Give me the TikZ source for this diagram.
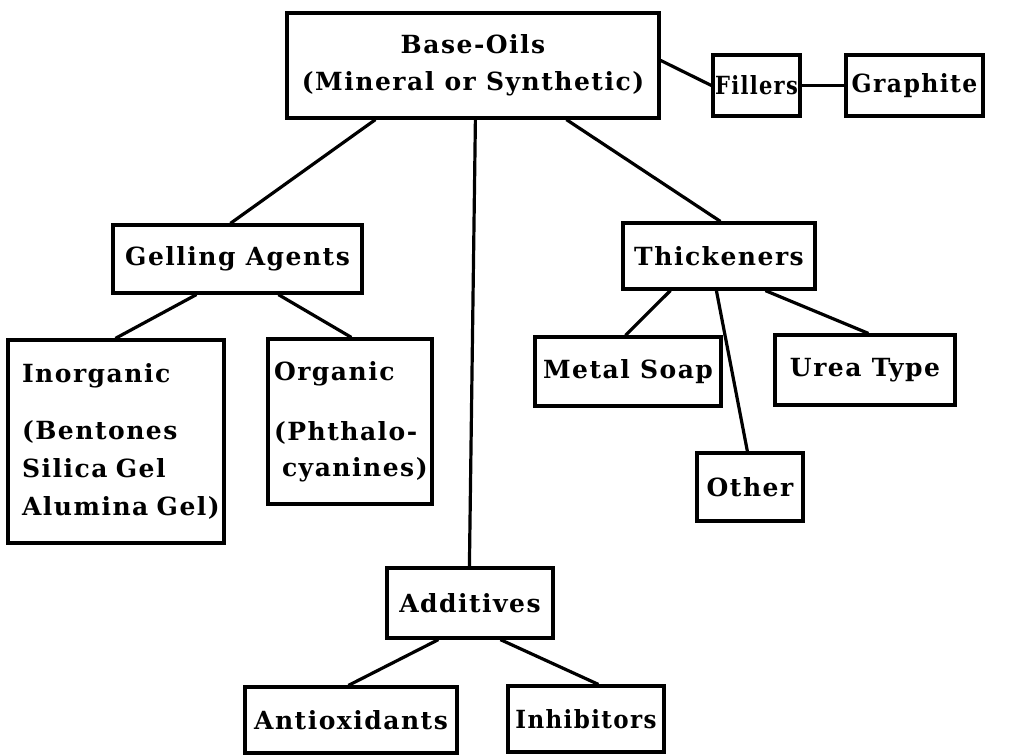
\documentclass[tikz,border=0pt]{standalone}
\usepackage{fontspec}
\setmainfont{DejaVu Serif}[LetterSpace=6]
\begin{document}
\begin{tikzpicture}[x=1pt,y=-1pt,
  box/.style={draw=black,line width=3.2pt,inner sep=0pt,align=center,
    font=\fontsize{25}{37}\selectfont\bfseries},
  tallbox/.style={box,font=\fontsize{25}{38}\selectfont\bfseries,align=left},
  link/.style={draw=black,line width=3.2pt}]
\useasboundingbox (0,0) rectangle (1027,755);
% nodes
\node[box,minimum width=372,minimum height=105] (base) at (473,65.5) {Base-Oils\\(Mineral or Synthetic)};
\node[box,minimum width=87,minimum height=61] (fill) at (756.5,85.5) {\scalebox{0.84}[1]{Fillers}};
\node[box,minimum width=137,minimum height=61] (graph) at (914.5,85.5) {\scalebox{0.94}[1]{Graphite}};
\node[box,minimum width=249,minimum height=68] (gel) at (237.5,259) {Gelling Agents};
\node[tallbox,minimum width=216,minimum height=203,text width=188] (inorg) at (116,441.5)
  {Inorganic\\[19pt](Bentones\\Silica Gel\\\mbox{Alumina Gel)}};
\node[tallbox,minimum width=164,minimum height=165,text width=152] (org) at (350,421.5)
  {Organic\\[22pt](Phthalo-\\[-2pt]\hspace*{8pt}cyanines)};
\node[box,minimum width=192,minimum height=66] (thick) at (719,256) {Thickeners};
\node[box,minimum width=186,minimum height=69] (metal) at (628,371.5) {Metal Soap};
\node[box,minimum width=180,minimum height=70] (urea) at (865,370) {Urea Type};
\node[box,minimum width=106,minimum height=68] (other) at (750,487) {Other};
\node[box,minimum width=166,minimum height=70] (add) at (470,603) {Additives};
\node[box,minimum width=212,minimum height=66] (anti) at (351,720) {Antioxidants};
\node[box,minimum width=156,minimum height=66] (inhib) at (586,719) {\scalebox{0.92}[1]{Inhibitors}};
% connectors
\draw[link] ([xshift=90pt]base.south west) -- ([xshift=119pt]gel.north west);
\draw[link] ([xshift=190pt]base.south west) -- ([xshift=84pt]add.north west);
\draw[link] ([xshift=281pt]base.south west) -- ([xshift=99pt]thick.north west);
\draw[link] ([yshift=-49pt]base.north east) -- (fill.west);
\draw[link] (fill.east) -- (graph.west);
\draw[link] ([xshift=85pt]gel.south west) -- ([xshift=109pt]inorg.north west);
\draw[link] ([xshift=167pt]gel.south west) -- ([xshift=85pt]org.north west);
\draw[link] ([xshift=49pt]thick.south west) -- ([xshift=92pt]metal.north west);
\draw[link] ([xshift=95pt]thick.south west) -- ([xshift=52pt]other.north west);
\draw[link] ([xshift=144pt]thick.south west) -- ([xshift=95pt]urea.north west);
\draw[link] ([xshift=53pt]add.south west) -- ([xshift=105pt]anti.north west);
\draw[link] ([xshift=115pt]add.south west) -- ([xshift=92pt]inhib.north west);
\end{tikzpicture}
\end{document}
